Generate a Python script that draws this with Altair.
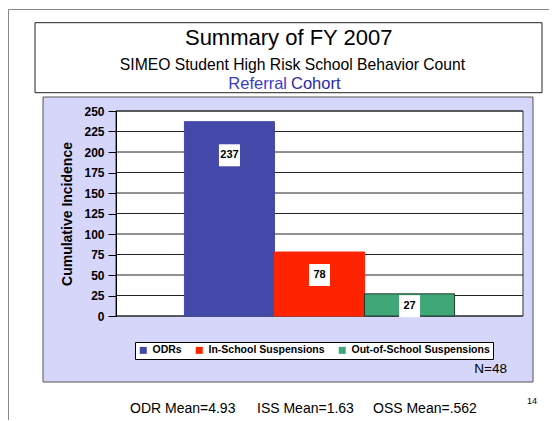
import altair as alt
import pandas as pd

# ---- data ----
categories = ["ODRs", "In-School Suspensions", "Out-of-School Suspensions"]
counts = [237, 78, 27]
label_at = [196, 50, 12]          # where the value boxes sit (data units)
bar_colors = ["#4448A8", "#FF2400", "#40A878"]
bar_strokes = ["#4448A8", "#FF2400", "#1E3A2A"]
y_ticks = [0, 25, 50, 75, 100, 125, 150, 175, 200, 225, 250]
title_text = "Summary of FY 2007"
subtitle_text = "SIMEO Student High Risk School Behavior Count"
cohort_words = ["Referral", "Cohort"]
mean_texts = ["ODR Mean=4.93", "ISS Mean=1.63", "OSS Mean=.562"]
n_text = "N=48"
page_text = "14"
y_title = "Cumulative Incidence"

W, H = 407, 205
FONT = "Liberation Sans"

bars_df = pd.DataFrame({"category": categories, "count": counts, "label_at": label_at})
ticks_df = pd.DataFrame({"tick": y_ticks})
one = pd.DataFrame({"k": [0]})

yscale = alt.Scale(domain=[0, 250], nice=False, zero=True)
xenc = alt.X("category:N", sort=categories, axis=None,
             scale=alt.Scale(paddingInner=0, paddingOuter=0.76))

yaxis = alt.Axis(values=y_ticks, grid=False, domainColor="black", tickColor="black",
                 tickSize=8, labelFont=FONT, labelFontSize=12, labelFontWeight="bold",
                 labelColor="black", labelPadding=4, title=y_title, titleFont=FONT,
                 titleFontSize=14, titleFontWeight="bold", titleColor="black",
                 titlePadding=9, zindex=1)


def box(x1, y1, x2, y2, fill, stroke, sw=1):
    return alt.Chart(one).mark_rect(fill=fill, stroke=stroke, strokeWidth=sw).encode(
        x=alt.value(x1), x2=alt.value(x2), y=alt.value(y1), y2=alt.value(y2))


def txt(text, x, y, size, align="left", weight="normal", color="black"):
    return alt.Chart(pd.DataFrame({"t": [text]})).mark_text(
        align=align, baseline="alphabetic", font=FONT, fontSize=size,
        fontWeight=weight, color=color).encode(
        x=alt.value(x), y=alt.value(y), text="t:N")


slide_left = alt.Chart(one).mark_rule(color="#888888", strokeWidth=1).encode(
    x=alt.value(-107.5), y=alt.value(-101.5), y2=alt.value(330))
slide_top = alt.Chart(one).mark_rule(color="#888888", strokeWidth=1).encode(
    x=alt.value(-107.5), x2=alt.value(441), y=alt.value(-101.5))

title_box = box(-81, -88.3, 426, -18.3, "white", "#222222")
panel = box(-73, -14, 417, 271, "#D6D6FA", "#555555")
plot_bg = box(0, 0, W, H, "white", "#333333")

grid = alt.Chart(ticks_df).mark_rule(color="#222222", strokeWidth=1).encode(
    y=alt.Y("tick:Q", scale=yscale, axis=yaxis, title=y_title),
    x=alt.value(0), x2=alt.value(W))

bars = alt.Chart(bars_df).mark_bar(strokeWidth=1).encode(
    x=xenc,
    y=alt.Y("count:Q", scale=yscale, axis=yaxis, title=y_title),
    color=alt.Color("category:N", sort=categories,
                    scale=alt.Scale(domain=categories, range=bar_colors),
                    legend=alt.Legend(title=None, orient="none", legendX=19, legendY=231,
                                      direction="horizontal", symbolType="square",
                                      symbolSize=49, symbolStrokeWidth=0,
                                      labelFont=FONT, labelFontSize=10.5,
                                      labelFontWeight="bold", labelColor="black",
                                      fillColor="white", strokeColor="black",
                                      padding=3, columnPadding=12, labelOffset=4)),
    stroke=alt.Stroke("category:N", sort=categories,
                      scale=alt.Scale(domain=categories, range=bar_strokes), legend=None),
)

label_boxes = alt.Chart(bars_df).mark_rect(width=21, height=22, fill="white").encode(
    x=xenc, y=alt.Y("label_at:Q", scale=yscale, axis=yaxis, title=y_title))

label_text = alt.Chart(bars_df).mark_text(
    font=FONT, fontSize=11, fontWeight="bold", color="black", baseline="middle").encode(
    x=xenc, y=alt.Y("label_at:Q", scale=yscale, axis=yaxis, title=y_title),
    text="count:Q")

layers = [
    slide_left, slide_top, title_box, panel, plot_bg, grid, bars, label_boxes, label_text,
    txt(title_text, 172.7, -66, 22, align="center"),
    txt(subtitle_text, 176.5, -41.5, 15.7, align="center"),
    txt(cohort_words[0], 171, -21.7, 16.5, align="right", color="#3C3CC8"),
    txt(cohort_words[1], 175, -21.7, 16.5, align="left", color="#2A2AA8"),
    txt(mean_texts[0], 14, 302, 14),
    txt(mean_texts[1], 141, 302, 14),
    txt(mean_texts[2], 257, 302, 14),
    txt(n_text, 391, 261.7, 13.5, align="right"),
    txt(page_text, 411, 293, 9),
]

chart = alt.layer(*layers).properties(
    width=W, height=H,
    autosize=alt.AutoSizeParams(type="none"),
    padding={"left": 108, "top": 103, "right": 26, "bottom": 104},
).configure_view(stroke=None)

chart.save("out.html", embed_options={"renderer": "svg", "actions": False})
